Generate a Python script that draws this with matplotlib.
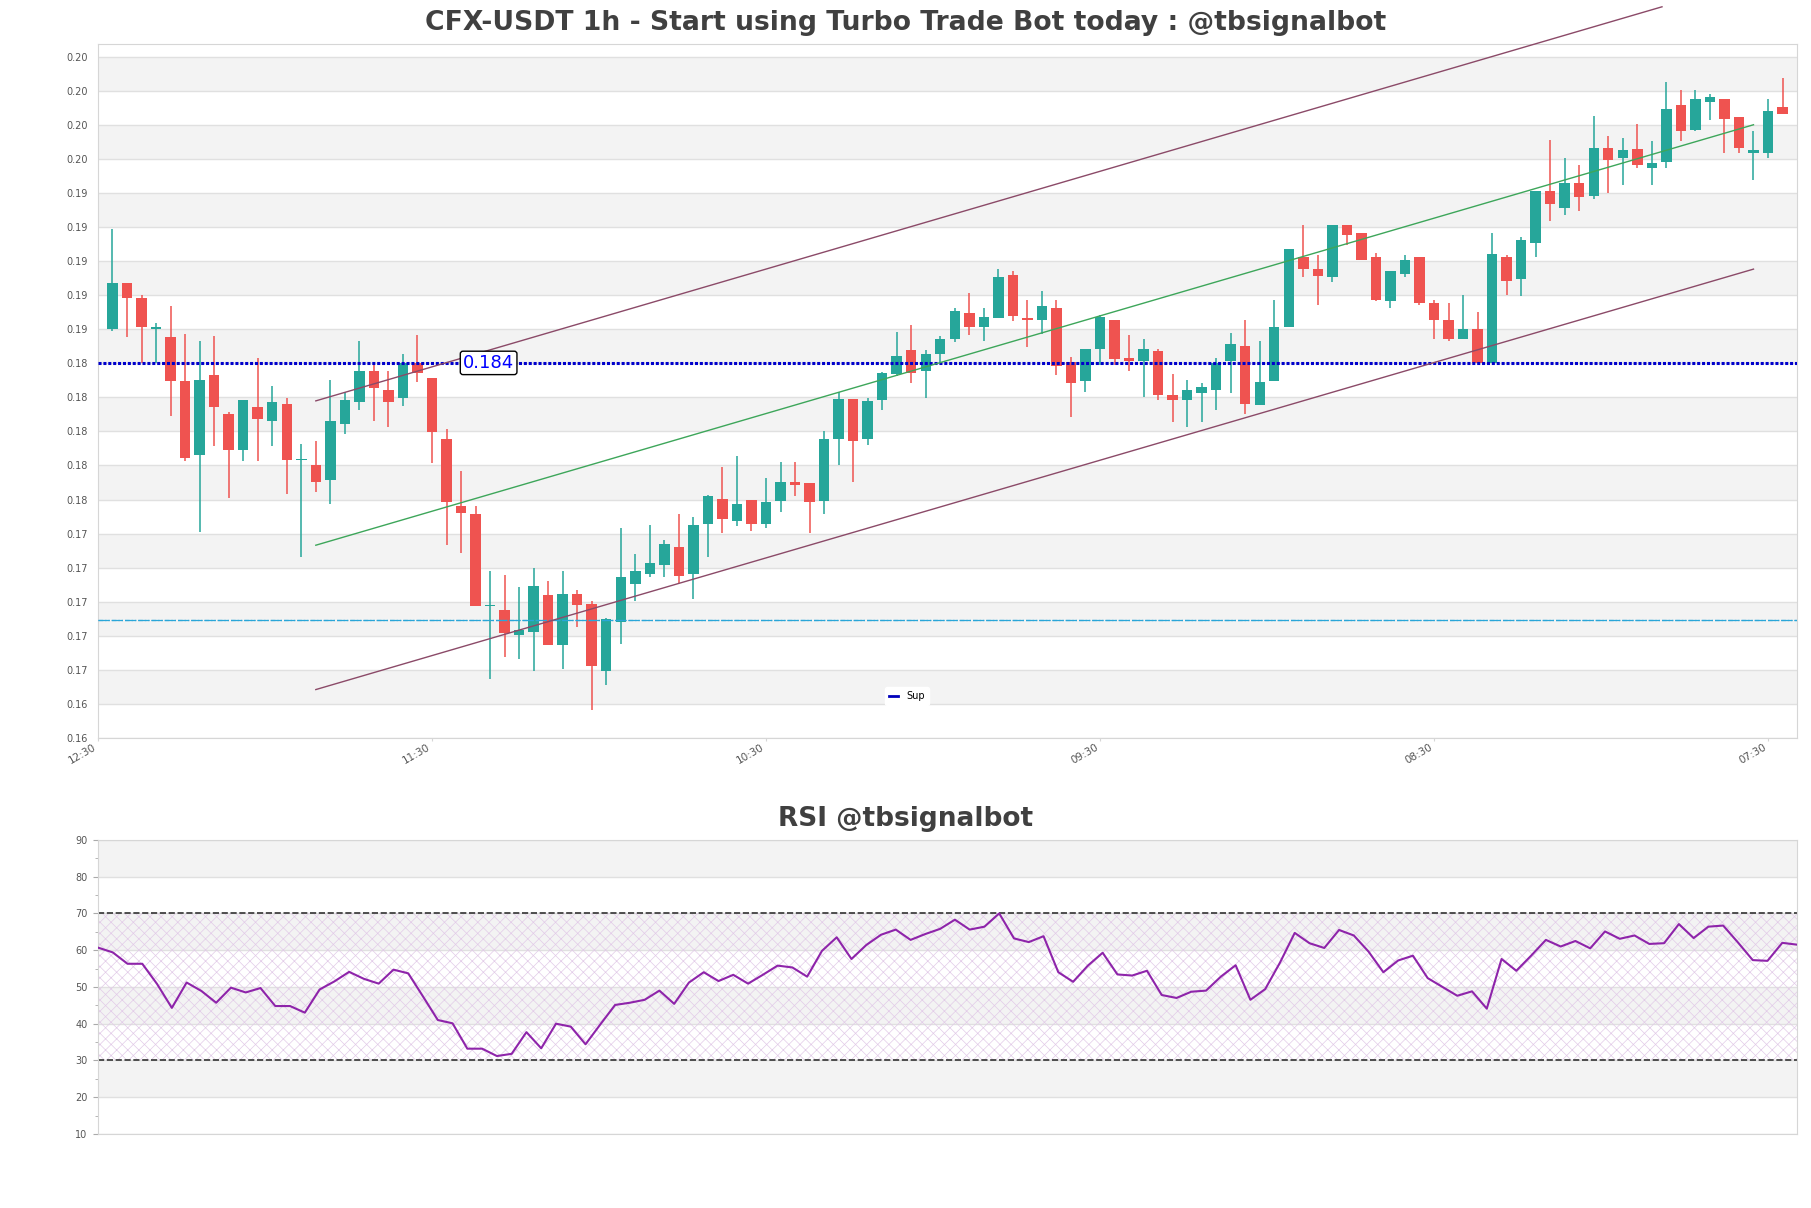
import matplotlib.pyplot as plt
import numpy as np
from matplotlib.lines import Line2D

plt.rcParams['hatch.linewidth'] = 0.5

# x axis labels (every 23 candles)
times = ['12:30', '11:30', '10:30', '09:30', '08:30', '07:30']

opens = [0.18597, 0.18872, 0.18780, 0.18602, 0.18555, 0.18295, 0.17857, 0.18327, 0.18101, 0.17889,
         0.18143, 0.18059, 0.18161, 0.17829, 0.17802, 0.17711, 0.18041, 0.18169, 0.18355, 0.18243,
         0.18193, 0.18400, 0.18311, 0.17954, 0.17561, 0.17514, 0.16972, 0.16948, 0.16801, 0.16820,
         0.17034, 0.16744, 0.17045, 0.16982, 0.16592, 0.16877, 0.17100, 0.17160, 0.17213, 0.17318,
         0.17160, 0.17454, 0.17603, 0.17472, 0.17593, 0.17454, 0.17587, 0.17703, 0.17692, 0.17587,
         0.17952, 0.18188, 0.17952, 0.18182, 0.18334, 0.18473, 0.18353, 0.18450, 0.18542, 0.18696,
         0.18610, 0.18665, 0.18914, 0.18665, 0.18652, 0.18725, 0.18405, 0.18293, 0.18484, 0.18654,
         0.18431, 0.18410, 0.18468, 0.18214, 0.18182, 0.18222, 0.18240, 0.18410, 0.18497, 0.18151,
         0.18293, 0.18610, 0.19024, 0.18950, 0.18903, 0.19213, 0.19165, 0.19024, 0.18762, 0.18922,
         0.19024, 0.18754, 0.18654, 0.18539, 0.18602, 0.18400, 0.19024, 0.18893, 0.19102, 0.19412,
         0.19309, 0.19454, 0.19380, 0.19663, 0.19603, 0.19655, 0.19543, 0.19579, 0.19918, 0.19771,
         0.19933, 0.19949, 0.19847, 0.19635, 0.19632, 0.19904]
highs = [0.19184, 0.18872, 0.18796, 0.18636, 0.18733, 0.18570, 0.18526, 0.18557, 0.18112, 0.18185,
         0.18431, 0.18266, 0.18196, 0.17926, 0.17941, 0.18300, 0.18230, 0.18526, 0.18400, 0.18355,
         0.18452, 0.18565, 0.18311, 0.18012, 0.17763, 0.17559, 0.17176, 0.17152, 0.17084, 0.17194,
         0.17116, 0.17176, 0.17063, 0.17003, 0.16903, 0.17433, 0.17276, 0.17446, 0.17357, 0.17514,
         0.17493, 0.17622, 0.17787, 0.17855, 0.17593, 0.17726, 0.17816, 0.17816, 0.17692, 0.17999,
         0.18230, 0.18188, 0.18193, 0.18345, 0.18583, 0.18625, 0.18473, 0.18557, 0.18720, 0.18812,
         0.18725, 0.18950, 0.18940, 0.18767, 0.18825, 0.18767, 0.18437, 0.18484, 0.18680, 0.18654,
         0.18565, 0.18542, 0.18479, 0.18332, 0.18300, 0.18282, 0.18426, 0.18573, 0.18654, 0.18526,
         0.18767, 0.19068, 0.19213, 0.19032, 0.19213, 0.19213, 0.19165, 0.19045, 0.18937, 0.19034,
         0.19024, 0.18767, 0.18754, 0.18796, 0.18699, 0.19165, 0.19034, 0.19139, 0.19412, 0.19711,
         0.19606, 0.19564, 0.19852, 0.19734, 0.19724, 0.19805, 0.19705, 0.20051, 0.20004, 0.20004,
         0.19980, 0.19949, 0.19847, 0.19763, 0.19949, 0.20075]
lows = [0.18589, 0.18552, 0.18400, 0.18400, 0.18091, 0.17823, 0.17409, 0.17912, 0.17608, 0.17823,
        0.17823, 0.17912, 0.17627, 0.17260, 0.17640, 0.17574, 0.17981, 0.18122, 0.18059, 0.18025,
        0.18148, 0.18290, 0.17810, 0.17331, 0.17283, 0.16972, 0.16544, 0.16675, 0.16660, 0.16592,
        0.16744, 0.16602, 0.16851, 0.16361, 0.16508, 0.16749, 0.17000, 0.17142, 0.17142, 0.17108,
        0.17013, 0.17260, 0.17401, 0.17441, 0.17415, 0.17430, 0.17527, 0.17616, 0.17401, 0.17511,
        0.17800, 0.17700, 0.17920, 0.18122, 0.18321, 0.18282, 0.18193, 0.18405, 0.18523, 0.18563,
        0.18528, 0.18665, 0.18649, 0.18492, 0.18570, 0.18329, 0.18083, 0.18230, 0.18387, 0.18387,
        0.18353, 0.18201, 0.18180, 0.18051, 0.18023, 0.18051, 0.18122, 0.18222, 0.18099, 0.18151,
        0.18293, 0.18610, 0.18903, 0.18738, 0.18877, 0.19092, 0.19003, 0.18762, 0.18720, 0.18903,
        0.18738, 0.18542, 0.18528, 0.18539, 0.18400, 0.18400, 0.18798, 0.18793, 0.19021, 0.19236,
        0.19270, 0.19291, 0.19365, 0.19401, 0.19448, 0.19545, 0.19448, 0.19543, 0.19705, 0.19760,
        0.19828, 0.19632, 0.19632, 0.19472, 0.19603, 0.19860]
closes = [0.18872, 0.18780, 0.18610, 0.18612, 0.18293, 0.17842, 0.18300, 0.18141, 0.17889, 0.18185,
          0.18070, 0.18172, 0.17829, 0.17833, 0.17700, 0.18057, 0.18185, 0.18355, 0.18251, 0.18169,
          0.18400, 0.18340, 0.17994, 0.17582, 0.17519, 0.16972, 0.16976, 0.16814, 0.16833, 0.17087,
          0.16744, 0.17045, 0.16977, 0.16620, 0.16896, 0.17145, 0.17176, 0.17223, 0.17336, 0.17147,
          0.17446, 0.17616, 0.17483, 0.17574, 0.17454, 0.17585, 0.17703, 0.17682, 0.17582, 0.17954,
          0.18188, 0.17941, 0.18175, 0.18340, 0.18442, 0.18340, 0.18452, 0.18542, 0.18704, 0.18610,
          0.18667, 0.18906, 0.18678, 0.18652, 0.18735, 0.18384, 0.18282, 0.18484, 0.18670, 0.18421,
          0.18410, 0.18484, 0.18209, 0.18182, 0.18243, 0.18256, 0.18400, 0.18513, 0.18156, 0.18285,
          0.18612, 0.19068, 0.18950, 0.18908, 0.19213, 0.19150, 0.19003, 0.18770, 0.18937, 0.19005,
          0.18751, 0.18652, 0.18542, 0.18602, 0.18400, 0.19037, 0.18880, 0.19123, 0.19412, 0.19333,
          0.19454, 0.19375, 0.19663, 0.19590, 0.19648, 0.19561, 0.19577, 0.19894, 0.19760, 0.19949,
          0.19965, 0.19831, 0.19661, 0.19653, 0.19881, 0.19860]

rsi = [60.7, 59.4, 56.3, 56.3, 50.8, 44.3, 51.2, 48.9, 45.7, 49.8,
       48.5, 49.7, 44.8, 44.8, 43.0, 49.3, 51.5, 54.1, 52.2, 50.9,
       54.7, 53.7, 47.4, 41.0, 40.1, 33.2, 33.2, 31.2, 31.8, 37.7,
       33.3, 40.0, 39.2, 34.4, 39.8, 45.1, 45.7, 46.5, 49.0, 45.4,
       51.2, 54.0, 51.6, 53.3, 50.9, 53.3, 55.8, 55.3, 52.8, 59.8,
       63.5, 57.6, 61.4, 64.2, 65.6, 62.8, 64.4, 65.8, 68.3, 65.6,
       66.4, 70.0, 63.2, 62.2, 63.8, 54.0, 51.4, 55.8, 59.3, 53.4,
       53.1, 54.4, 47.8, 47.0, 48.7, 49.0, 52.8, 55.9, 46.5, 49.4,
       56.6, 64.7, 61.9, 60.6, 65.5, 64.0, 59.6, 54.0, 57.2, 58.5,
       52.4, 50.0, 47.6, 48.8, 44.1, 57.6, 54.4, 58.5, 62.8, 61.0,
       62.5, 60.5, 65.1, 63.1, 64.0, 61.7, 61.9, 67.1, 63.3, 66.4,
       66.7, 62.1, 57.3, 57.1, 62.0, 61.5]

sup_level = 0.184
dash_level = 0.1689
# channel lines: (x0, x1), (y0, y1)
upper_x, upper_y = [15, 107.7], [0.18177, 0.20492]
mid_x, mid_y = [15, 114], [0.17329, 0.19799]
lower_x, lower_y = [15, 114], [0.16481, 0.18951]

GREEN = '#26a69a'
RED = '#ef5350'
BAND = '#f3f3f3'
GRID = '#e0e0e0'
SPINE = '#d6d6d6'
TXT = '#555555'


def style_axes(ax):
    for s in ax.spines.values():
        s.set_color(SPINE)
    ax.set_axisbelow(True)
    ax.grid(axis='y', color=GRID, lw=1)
    ax.grid(axis='x', visible=False)


def bands(ax, ticks):
    for i in range(1, len(ticks) - 1, 2):
        ax.axhspan(ticks[i], ticks[i + 1], color=BAND, lw=0, zorder=0)


fig = plt.figure(figsize=(18.11, 12.08), dpi=100)
ax = fig.add_axes([0.0541, 0.3892, 0.9382, 0.5747])
ax2 = fig.add_axes([0.0541, 0.0613, 0.9382, 0.2434])

# ---- candles ----
o, h, l, c = (np.array(v) for v in (opens, highs, lows, closes))
x = np.arange(1, len(o) + 1)
cols = np.where(c >= o, GREEN, RED)
ax.vlines(x, l, h, colors=cols, lw=1.1, zorder=3)
body = np.maximum(np.abs(c - o), 0.00005)
ax.bar(x, body, bottom=np.minimum(o, c), width=0.72, color=cols, zorder=4)

ylo, yhi = l.min() * 0.99, h.max() * 1.01
ax.set_ylim(ylo, yhi)
ax.set_xlim(0, len(o) + 1)
yt = np.arange(ylo, yhi, 0.002)
ax.set_yticks(yt)
ax.set_yticklabels(['%.2f' % v for v in yt])
bands(ax, yt)
style_axes(ax)

ax.set_xticks(np.arange(len(times)) * 23)
ax.set_xticklabels(times, rotation=30, ha='right')
ax.tick_params(axis='y', length=0, pad=7.5, labelsize=7, labelcolor=TXT)
ax.tick_params(axis='x', length=2, pad=1, labelsize=7.5, labelcolor=TXT, color=SPINE)

# support / levels
ax.axhline(sup_level, color='#0000cc', ls=(0, (1, 0.6)), lw=2.2, zorder=5)
ax.text(26.9, sup_level, '%.3f' % sup_level, color='blue', fontsize=13, ha='center', va='center',
        zorder=7, bbox=dict(boxstyle='round,pad=0.15', fc='white', ec='black', lw=1))
ax.axhline(dash_level, color='#2aa6d8', ls='--', lw=0.9, zorder=5)
ax.axhline(dash_level, color='#2aa6d8', ls='-.', lw=0.9, zorder=5)

# channel
ax.plot(upper_x, upper_y, color='#8b4a68', lw=1, zorder=6, clip_on=False)
ax.plot(mid_x, mid_y, color='#3da65a', lw=1, zorder=6)
ax.plot(lower_x, lower_y, color='#8b4a68', lw=1, zorder=6)

ax.legend(handles=[Line2D([0], [0], color='#0000bb', lw=2)], labels=['Sup'],
          loc='center', bbox_to_anchor=(0.476, 0.060), fontsize=7, handlelength=1,
          facecolor='white', edgecolor='white', framealpha=1)

fig.text(0.5, 0.981, 'CFX-USDT 1h - Start using Turbo Trade Bot today : @tbsignalbot',
         fontsize=19.2, fontweight='bold', color='#404040', ha='center', va='center')

# ---- RSI ----
xr = np.arange(len(rsi))
rt = np.arange(10, 91, 10)
ax2.set_ylim(10, 90)
ax2.set_xlim(0, len(rsi) - 1)
ax2.set_yticks(rt)
ax2.set_yticks(np.arange(15, 90, 10), minor=True)
bands(ax2, rt)
style_axes(ax2)
ax2.fill_between(xr, 30, 70, facecolor='none', edgecolor='#e2cbe8', hatch='xxx', lw=0, zorder=1)
ax2.axhline(30, color='#333333', ls='--', lw=1.2, zorder=2)
ax2.axhline(70, color='#333333', ls='--', lw=1.2, zorder=2)
ax2.plot(xr, rsi, color='#8e24aa', lw=1.5, zorder=3)
ax2.set_xticks([])
ax2.tick_params(axis='y', which='both', length=3.5, color='#aaaaaa', pad=4, labelsize=7, labelcolor=TXT)
ax2.tick_params(axis='y', which='minor', length=2.5)

fig.text(0.5, 0.322, 'RSI @tbsignalbot', fontsize=19, fontweight='bold', color='#404040',
         ha='center', va='center')

fig.savefig('out.png', dpi=100)
